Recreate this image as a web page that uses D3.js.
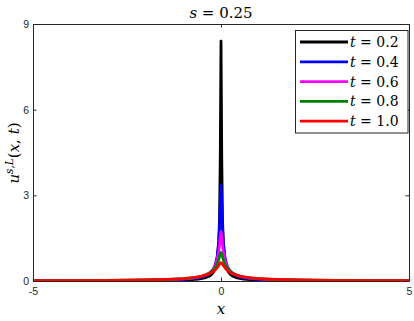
<!DOCTYPE html>
<html><head><meta charset="utf-8">
<script src="https://cdn.jsdelivr.net/npm/d3@7"></script>
<style>
html,body{margin:0;padding:0;background:#fff;}
svg{display:block;}
.tick text{font-family:"Liberation Sans",Arial,sans-serif;font-size:10.5px;fill:#262626;}
</style>
</head><body>
<svg id="chart" width="414" height="321"></svg>
<script>
// ---- data ----
const xValues = [-5,-4,-3,-2.5,-2,-1.5,-1.25,-1,-0.8,-0.6,-0.5,-0.4,-0.3,-0.25,-0.2,-0.15,-0.1,-0.06,-0.04,-0.02,0,0.02,0.04,0.06,0.1,0.15,0.2,0.25,0.3,0.4,0.5,0.6,0.8,1,1.25,1.5,2,2.5,3,4,5];
const u_t02 = [0.0034,0.0047,0.0071,0.0093,0.0126,0.019,0.025,0.034,0.0465,0.0695,0.0898,0.122,0.18,0.23,0.309,0.45,0.748,1.37,2.15,4.28,8.4,4.28,2.15,1.37,0.748,0.45,0.309,0.23,0.18,0.122,0.0898,0.0695,0.0465,0.034,0.025,0.019,0.0126,0.0093,0.0071,0.0047,0.0034];
const u_t04 = [0.0063,0.0085,0.0127,0.0166,0.0224,0.0331,0.0425,0.0575,0.0772,0.1125,0.142,0.187,0.265,0.328,0.422,0.581,0.869,1.39,1.85,2.69,3.36,2.69,1.85,1.39,0.869,0.581,0.422,0.328,0.265,0.187,0.142,0.1125,0.0772,0.0575,0.0425,0.0331,0.0224,0.0166,0.0127,0.0085,0.0063];
const u_t06 = [0.0087,0.012,0.0175,0.0225,0.030,0.0439,0.0556,0.0728,0.0958,0.135,0.167,0.214,0.289,0.35,0.433,0.569,0.767,1.05,1.256,1.55,1.72,1.55,1.256,1.05,0.767,0.569,0.433,0.35,0.289,0.214,0.167,0.135,0.0958,0.0728,0.0556,0.0439,0.030,0.0225,0.0175,0.012,0.0087];
const u_t08 = [0.0106,0.0144,0.0208,0.0267,0.0355,0.0508,0.0628,0.082,0.105,0.145,0.175,0.217,0.283,0.338,0.398,0.484,0.606,0.753,0.852,0.953,0.995,0.953,0.852,0.753,0.606,0.484,0.398,0.338,0.283,0.217,0.175,0.145,0.105,0.082,0.0628,0.0508,0.0355,0.0267,0.0208,0.0144,0.0106];
const u_t10 = [0.0124,0.0165,0.0238,0.0299,0.0392,0.0549,0.0675,0.086,0.109,0.144,0.171,0.212,0.262,0.296,0.341,0.395,0.47,0.548,0.59,0.623,0.64,0.623,0.59,0.548,0.47,0.395,0.341,0.296,0.262,0.212,0.171,0.144,0.109,0.086,0.0675,0.0549,0.0392,0.0299,0.0238,0.0165,0.0124];
const seriesNames = ["0.2","0.4","0.6","0.8","1.0"];
const seriesValues = [u_t02,u_t04,u_t06,u_t08,u_t10];
const seriesColors = ["#000000","#0000ff","#ff00ff","#008000","#ff0000"];
const xTicks = [-5,0,5];
const yTicks = [0,3,6,9];

// ---- layout ----
const L=33, R=409, T=24, B=281;
const SERIF = "'DejaVu Serif','Liberation Serif',serif";
const svg = d3.select("#chart");
const x = d3.scaleLinear().domain([-5,5]).range([L,R]);
const y = d3.scaleLinear().domain([0,9]).range([B,T]);

svg.append("defs").append("clipPath").attr("id","clip")
  .append("rect").attr("x",L).attr("y",T-2).attr("width",R-L).attr("height",B-T+2);

const line = d3.line().x((d,i)=>x(xValues[i])).y(d=>y(d));
const g = svg.append("g").attr("clip-path","url(#clip)");
seriesValues.forEach((vals,k)=>{
  g.append("path").datum(vals).attr("d",line)
    .attr("fill","none").attr("stroke",seriesColors[k])
    .attr("stroke-width",2.8).attr("stroke-linejoin","round");
});

// axes
const ax = svg.append("g").attr("transform",`translate(0,${B})`)
  .call(d3.axisBottom(x).tickValues(xTicks).tickSizeInner(-3.5).tickSizeOuter(0).tickPadding(7).tickFormat(d3.format("d")));
const axT = svg.append("g").attr("transform",`translate(0,${T})`)
  .call(d3.axisTop(x).tickValues(xTicks).tickSizeInner(-3.5).tickSizeOuter(0).tickFormat(""));
const ay = svg.append("g").attr("transform",`translate(${L},0)`)
  .call(d3.axisLeft(y).tickValues(yTicks).tickSizeInner(-3.5).tickSizeOuter(0).tickPadding(4).tickFormat(d3.format("d")));
const ayR = svg.append("g").attr("transform",`translate(${R},0)`)
  .call(d3.axisRight(y).tickValues(yTicks).tickSizeInner(-3.5).tickSizeOuter(0).tickFormat(""));
[ax,axT,ay,ayR].forEach(a=>{
  a.selectAll(".domain").attr("stroke","#262626").attr("stroke-width",1);
  a.selectAll(".tick line").attr("stroke","#262626").attr("stroke-width",1);
});
ax.selectAll(".tick text").text(d=>d<0?"-"+Math.abs(d):d);

function mathText(sel){ return sel.attr("font-family",SERIF).attr("fill","#000"); }

// title
const title = mathText(svg.append("text")).attr("x",221).attr("y",18)
  .attr("text-anchor","middle").attr("font-size",15);
title.append("tspan").attr("font-style","italic").text("s");
title.append("tspan").text(" = 0.25");

// x label
mathText(svg.append("text")).attr("x",221).attr("y",314)
  .attr("text-anchor","middle").attr("font-size",15).attr("font-style","italic").text("x");

// y label
const yl = mathText(svg.append("text"))
  .attr("transform","translate(19,153) rotate(-90)")
  .attr("text-anchor","middle").attr("font-size",15);
yl.append("tspan").attr("font-style","italic").text("u");
yl.append("tspan").attr("font-style","italic").attr("font-size",10.5).attr("dy",-6).text("s,L");
yl.append("tspan").attr("dy",6).text("(");
yl.append("tspan").attr("font-style","italic").text("x");
yl.append("tspan").text(", ");
yl.append("tspan").attr("font-style","italic").text("t");
yl.append("tspan").text(")");

// legend
const lg = svg.append("g");
lg.append("rect").attr("x",295.5).attr("y",30.5).attr("width",112.5).attr("height",102.5)
  .attr("fill","#fff").attr("stroke","#262626").attr("stroke-width",1);
seriesNames.forEach((nm,k)=>{
  const yy = 42 + k*19.8;
  lg.append("line").attr("x1",300).attr("x2",348).attr("y1",yy).attr("y2",yy)
    .attr("stroke",seriesColors[k]).attr("stroke-width",2.8);
  const t = mathText(lg.append("text")).attr("x",350).attr("y",yy+5).attr("font-size",14);
  t.append("tspan").attr("font-style","italic").text("t");
  t.append("tspan").text(" = "+nm);
});
</script>
</body></html>
